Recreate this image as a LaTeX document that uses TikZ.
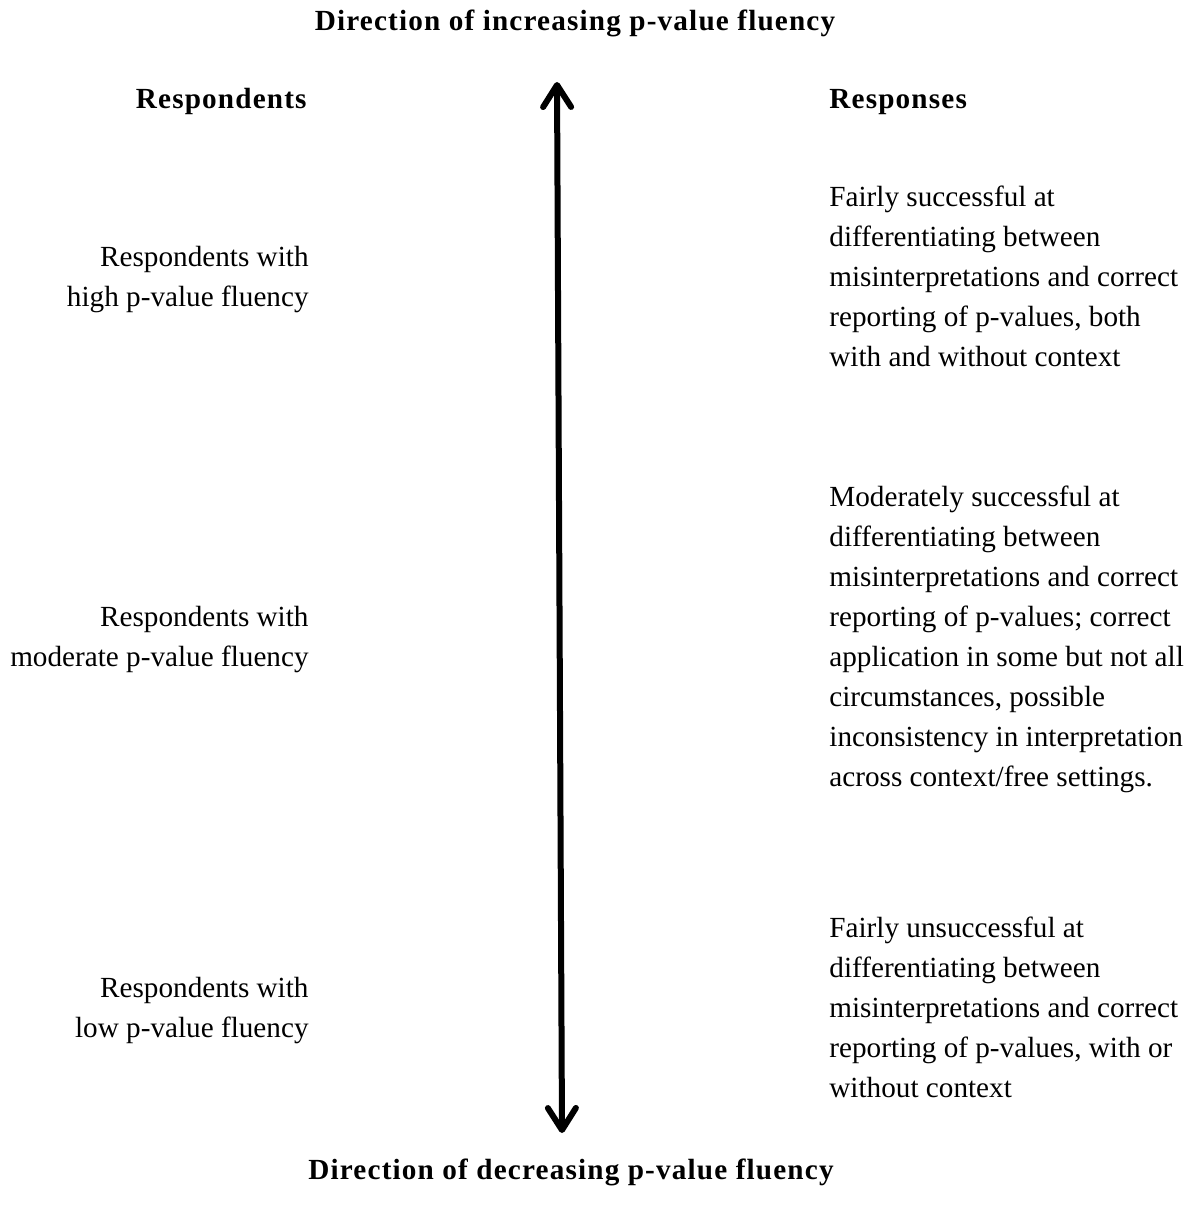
\documentclass[tikz,border=0pt]{standalone}
\usepackage{fontspec}
\setmainfont{Liberation Serif}[BoldFeatures={LetterSpace=4}]
\usetikzlibrary{arrows.meta}

\begin{document}
\begin{tikzpicture}[x=0.5pt, y=-0.5pt,
  txt/.style={inner sep=0, font=\fontsize{14.6}{20}\selectfont},
  hdr/.style={inner sep=0, font=\fontsize{14.6}{20}\selectfont\bfseries},
  barb/.tip={Straight Barb[length=11pt, width=14pt, round]}]
\useasboundingbox (0,0) rectangle (1187,1220);
\node[hdr, anchor=base] (inc) at (575,31) {Direction of increasing p-value fluency};
\node[hdr, anchor=base] (dec) at (571,1179) {Direction of decreasing p-value fluency};
\node[hdr, anchor=base east] (respondents) at (307,109) {Respondents};
\node[hdr, anchor=base west] (responses) at (829,109) {Responses};
\node[txt, anchor=north east, align=right] (high) at (309,246) {Respondents with\\high p-value fluency};
\node[txt, anchor=north east, align=right] (moderate) at (309,606) {Respondents with\\moderate p-value fluency};
\node[txt, anchor=north east, align=right] (low) at (309,977) {Respondents with\\low p-value fluency};
\node[txt, anchor=north west, align=left] (highresp) at (829,186) {Fairly successful at\\differentiating between\\misinterpretations and correct\\reporting of p-values, both\\with and without context};
\node[txt, anchor=north west, align=left] (modresp) at (829,486) {Moderately successful at\\differentiating between\\misinterpretations and correct\\reporting of p-values; correct\\application in some but not all\\circumstances, possible\\inconsistency in interpretation\\across context/free settings.};
\node[txt, anchor=north west, align=left] (lowresp) at (829,917) {Fairly unsuccessful at\\differentiating between\\misinterpretations and correct\\reporting of p-values, with or\\without context};
\coordinate (top) at (557,82);
\coordinate (bottom) at (562,1133);
\draw[line width=3pt, line cap=round, barb-barb] (bottom) -- (top);
\end{tikzpicture}
\end{document}
